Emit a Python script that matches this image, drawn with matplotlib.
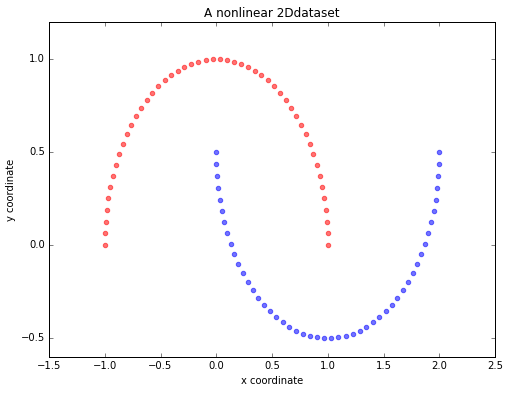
import matplotlib
matplotlib.use('Agg')
import matplotlib.pyplot as plt

plt.style.use('classic')

# upper moon (label 0)
x_red = [1.000, 0.998, 0.992, 0.982, 0.967, 0.949, 0.927, 0.901, 0.871, 0.838,
         0.801, 0.761, 0.718, 0.672, 0.623, 0.572, 0.518, 0.462, 0.405, 0.345,
         0.285, 0.223, 0.160, 0.096, 0.032, -0.032, -0.096, -0.160, -0.223, -0.285,
         -0.345, -0.405, -0.462, -0.518, -0.572, -0.623, -0.672, -0.718, -0.761, -0.801,
         -0.838, -0.871, -0.901, -0.927, -0.949, -0.967, -0.982, -0.992, -0.998, -1.000]
y_red = [0.000, 0.064, 0.128, 0.191, 0.254, 0.315, 0.375, 0.434, 0.491, 0.546,
         0.598, 0.648, 0.696, 0.740, 0.782, 0.820, 0.855, 0.887, 0.914, 0.938,
         0.959, 0.975, 0.987, 0.995, 0.999, 0.999, 0.995, 0.987, 0.975, 0.959,
         0.938, 0.914, 0.887, 0.855, 0.820, 0.782, 0.740, 0.696, 0.648, 0.598,
         0.546, 0.491, 0.434, 0.375, 0.315, 0.254, 0.191, 0.128, 0.064, 0.000]

# lower moon (label 1)
x_blue = [0.000, 0.002, 0.008, 0.018, 0.033, 0.051, 0.073, 0.099, 0.129, 0.162,
          0.199, 0.239, 0.282, 0.328, 0.377, 0.428, 0.482, 0.538, 0.595, 0.655,
          0.715, 0.777, 0.840, 0.904, 0.968, 1.032, 1.096, 1.160, 1.223, 1.285,
          1.345, 1.405, 1.462, 1.518, 1.572, 1.623, 1.672, 1.718, 1.761, 1.801,
          1.838, 1.871, 1.901, 1.927, 1.949, 1.967, 1.982, 1.992, 1.998, 2.000]
y_blue = [0.500, 0.436, 0.372, 0.309, 0.246, 0.185, 0.125, 0.066, 0.009, -0.046,
          -0.098, -0.148, -0.196, -0.240, -0.282, -0.320, -0.355, -0.387, -0.414, -0.438,
          -0.459, -0.475, -0.487, -0.495, -0.499, -0.499, -0.495, -0.487, -0.475, -0.459,
          -0.438, -0.414, -0.387, -0.355, -0.320, -0.282, -0.240, -0.196, -0.148, -0.098,
          -0.046, 0.009, 0.066, 0.125, 0.185, 0.246, 0.309, 0.372, 0.436, 0.500]

fig = plt.figure(figsize=(509 / 72, 393 / 72), dpi=72, facecolor='white')
ax = fig.add_axes([49 / 509, 1 - 357 / 393, 446 / 509, 335 / 393])

ax.scatter(x_red, y_red, color='red', marker='o', alpha=0.55, s=20)
ax.scatter(x_blue, y_blue, color='blue', marker='o', alpha=0.55, s=20)

ax.set_xlim(-1.5, 2.5)
ax.set_ylim(-0.6, 1.2)
ax.set_xticks([-1.5, -1.0, -0.5, 0.0, 0.5, 1.0, 1.5, 2.0, 2.5])
ax.set_yticks([-0.5, 0.0, 0.5, 1.0])
ax.tick_params(labelsize=10)

ax.set_title('A nonlinear 2Ddataset', fontsize=12)
ax.set_xlabel('x coordinate', fontsize=10)
ax.set_ylabel('y coordinate', fontsize=10)

fig.savefig('out.png', dpi=72, facecolor='white')
